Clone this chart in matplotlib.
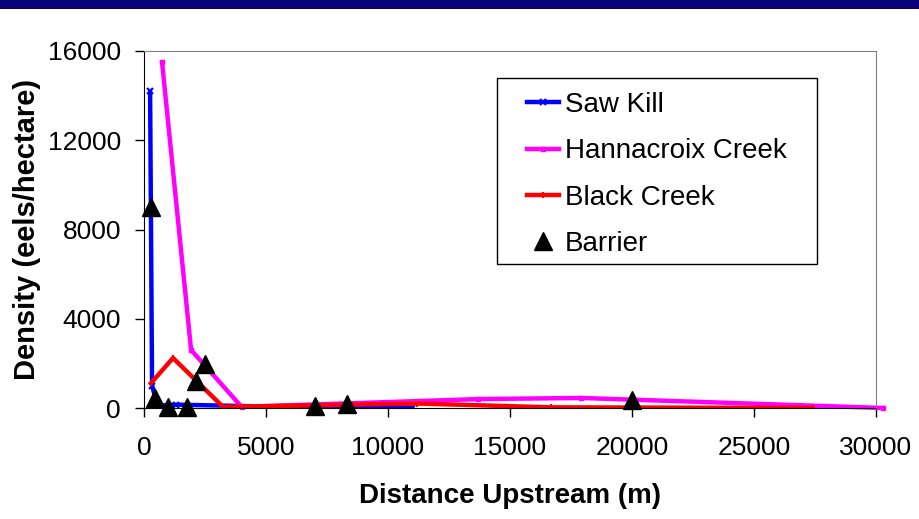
import matplotlib
matplotlib.use('Agg')
import matplotlib.pyplot as plt
import matplotlib.patches as patches

plt.rcParams['font.family'] = ['Liberation Sans', 'DejaVu Sans']

# distance upstream (m) and density (eels/hectare)
saw_x = [250, 330, 560, 1300, 5700, 11000]
saw_y = [14200, 1000, 100, 150, 50, 0]

hann_x = [740, 1930, 4000, 13700, 17900, 30300]
hann_y = [15500, 2600, 50, 400, 450, 0]

black_x = [290, 1190, 3240, 11200, 16700, 27400]
black_y = [1120, 2240, 50, 200, 30, 0]

barrier_x = [300, 450, 980, 1760, 2130, 2500, 7000, 8300, 20000]
barrier_y = [9000, 470, 50, 50, 1200, 1970, 100, 200, 350]

W, H = 920, 519
fig = plt.figure(figsize=(W/100, H/100), dpi=100)
# dark band across the top
fig.patches.append(patches.Rectangle((0, 1 - 9/H), 1, 9/H, transform=fig.transFigure,
                                     facecolor='#0A007A', edgecolor='none'))

ax = fig.add_axes([144/W, 1 - 408/H, 732/W, 357/H])

ax.plot(saw_x, saw_y, color='#0000FF', lw=3.2, marker='x', ms=4, mew=1.5, label='Saw Kill')
ax.plot(hann_x, hann_y, color='#FF00FF', lw=3.2, marker='s', ms=3.5, label='Hannacroix Creek',
        clip_on=False)
ax.plot(black_x, black_y, color='#FF0000', lw=3.2, marker='|', ms=5, mew=1.5, label='Black Creek')
ax.plot(barrier_x, barrier_y, ls='none', marker='^', ms=13, color='black', label='Barrier',
        zorder=5, clip_on=False)

ax.set_xlim(0, 30000)
ax.set_ylim(0, 16000)
ax.set_xticks(range(0, 30001, 5000))
ax.set_yticks(range(0, 16001, 4000))
ax.tick_params(direction='out', length=6.5, width=1, labelsize=19)
ax.tick_params(axis='x', pad=14)
ax.tick_params(axis='y', pad=10)

for s in ['top', 'right']:
    ax.spines[s].set_color('#808080')
for s in ['left', 'bottom']:
    ax.spines[s].set_color('black')

ax.set_xlabel('Distance Upstream (m)', fontsize=20, fontweight='bold', labelpad=16)
ax.set_ylabel('Density (eels/hectare)', fontsize=21, fontweight='bold', labelpad=5)

# legend box drawn separately (wider side padding than top/bottom)
fig.patches.append(patches.Rectangle((497/W, 1 - 264/H), 320/W, 186/H, transform=fig.transFigure,
                                     facecolor='white', edgecolor='black', lw=1, zorder=3))
leg = fig.legend(*ax.get_legend_handles_labels(), loc='upper left',
                 bbox_to_anchor=(527/W, 1 - 92/H), fontsize=20, frameon=False,
                 handlelength=1.15, handletextpad=0.22, labelspacing=0.73,
                 borderpad=0, borderaxespad=0)
leg.set_zorder(4)

fig.savefig('out.png', dpi=100)
